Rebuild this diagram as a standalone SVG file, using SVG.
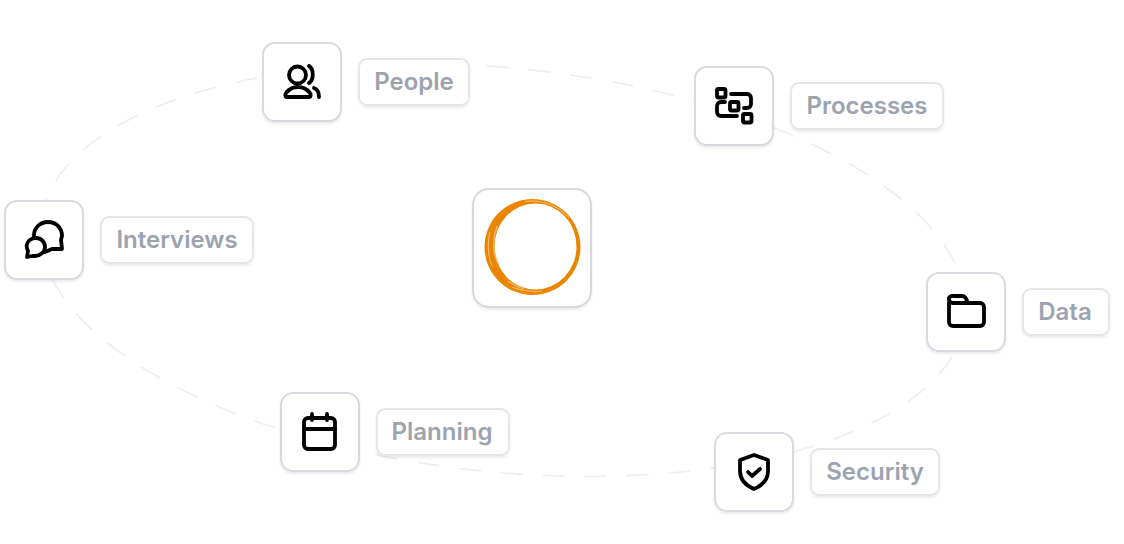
<svg xmlns="http://www.w3.org/2000/svg" width="1124" height="544" viewBox="0 0 1124 544">
<style>
.card{fill:#fff;stroke:#d9dadf;stroke-width:2;filter:url(#sh)}
.pill{fill:#fff;stroke:#e5e6ea;stroke-width:2;filter:url(#sh)}
.lb{font-family:Inter,"Liberation Sans",sans-serif;font-size:24px;font-weight:600;fill:#9ca3af;text-anchor:middle}
.ic{fill:none;stroke:#000;stroke-width:3.800;stroke-linecap:round;stroke-linejoin:round}
.dash{fill:none;stroke:#eeeff1;stroke-width:1.800;stroke-dasharray:22 20}
</style>
<defs><filter id="sh" x="-10%" y="-10%" width="120%" height="125%"><feDropShadow dx="0" dy="2" stdDeviation="1" flood-color="#000" flood-opacity=".08"/></filter></defs>
<g id="connectors"><ellipse class="dash" cx="503" cy="270" rx="465" ry="202" transform="rotate(5.8 503 270)"/></g>
<g id="center"><rect class="card" x="473" y="189" width="118" height="118" rx="16"/>
<path fill="#ea8500" fill-rule="evenodd" d="M532.5 199a48 48 0 1 0 .01 96a48 48 0 1 0 -.01 -96ZM535.5 203.500a41 43 0 1 1 -.01 86a41 43 0 1 1 .01 -86Z"/>
<path d="M490 232c-3 12-2 24 2 34M512 287c10 4 20 5 30 4M525 201.500c16-2 32 3 44 16" fill="none" stroke="#fff" stroke-width=".8" opacity=".6"/>
<path d="M497 226c-5 14-4 28 2 40M508 281c6 4 10 6 16 8" fill="none" stroke="#f3b565" stroke-width="1.500"/></g>
<g id="people"><rect class="card" x="263" y="43" width="78" height="78" rx="12"/>
<circle class="ic" cx="297.500" cy="75" r="8.500"/><path class="ic" d="M287 97c-2 0-2-3-1-4 3-4 7-6 12-6s9 2 12 6c1 1 1 4-1 4ZM309 66c5 3 5 14 0 17M314 88c3 1 5 4 5 9"/>
<rect class="pill" x="359" y="59" width="110" height="46" rx="8"/><text class="lb" x="414" y="90">People</text></g>
<g id="processes"><rect class="card" x="695" y="67" width="78" height="78" rx="12"/>
<g class="ic"><rect x="717" y="89" width="8.500" height="8.500" rx="1.500"/><rect x="730" y="102" width="8.500" height="8.500" rx="1.500"/><rect x="743" y="114" width="8.500" height="8.500" rx="1.500"/><path d="M731 94h16a4 4 0 0 1 4 4v6a4 4 0 0 1-4 4h-3M725 102h-4a4 4 0 0 0-4 4v6a4 4 0 0 0 4 4h16"/></g>
<rect class="pill" x="791" y="83" width="152" height="46" rx="8"/><text class="lb" x="867" y="114">Processes</text></g>
<g id="interviews"><rect class="card" x="5" y="201" width="78" height="78" rx="12"/>
<path class="ic" d="M34 238c-1-10 6-16 14-16 9 0 14 7 14 14l-1 4 1 9-10 0-7 3"/><path class="ic" d="M27 257l1-6c-1-2-2-4-1-7 1-4 5-6 9-6 5 0 9 4 9 9s-5 9-10 9l-3 0Z"/>
<rect class="pill" x="101" y="217" width="152" height="46" rx="8"/><text class="lb" x="177" y="248">Interviews</text></g>
<g id="data"><rect class="card" x="927" y="273" width="78" height="78" rx="12"/>
<path class="ic" d="M949 302v20a4 4 0 0 0 4 4h27a4 4 0 0 0 4-4v-15a4 4 0 0 0-4-4h-27a4 4 0 0 1-4-5a4 4 0 0 1 4-2h9c3 0 4 2 6 7"/>
<rect class="pill" x="1023" y="289" width="86" height="46" rx="8"/><text class="lb" x="1065" y="320">Data</text></g>
<g id="security"><rect class="card" x="715" y="433" width="78" height="78" rx="12"/>
<path class="ic" d="M754 455l14 5v11c0 9-7 15-14 18-7-3-14-9-14-18v-11Z"/><path class="ic" d="M748 472l4 4 8-7"/>
<rect class="pill" x="811" y="449" width="128" height="46" rx="8"/><text class="lb" x="875" y="480">Security</text></g>
<g id="planning"><rect class="card" x="281" y="393" width="78" height="78" rx="12"/>
<g class="ic"><rect x="304" y="418" width="31" height="31" rx="4"/><path d="M304 429h31M312 414v6M327 414v6"/></g>
<rect class="pill" x="377" y="409" width="132" height="46" rx="8"/><text class="lb" x="442" y="440">Planning</text></g>
</svg>
